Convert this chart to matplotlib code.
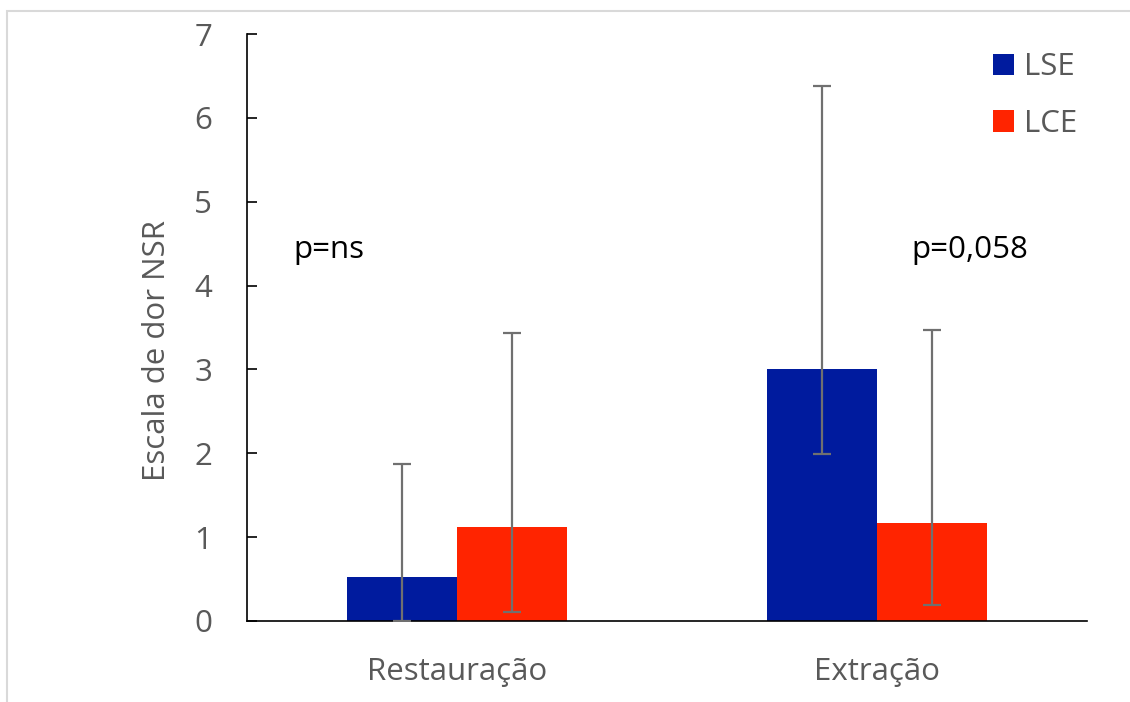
import matplotlib.pyplot as plt
import numpy as np
from matplotlib.patches import Rectangle

# dados
categorias = ['Restauração', 'Extração']
lse = [0.52, 3.0]
lce = [1.12, 1.17]
lse_min = [0.0, 1.99]
lse_max = [1.87, 6.38]
lce_min = [0.11, 0.19]
lce_max = [3.44, 3.47]
series = ['LSE', 'LCE']
cores = ['#001b9e', '#ff2400']
textos_p = ['p=ns', 'p=0,058']

plt.rcParams['font.family'] = ['Open Sans', 'DejaVu Sans']
cinza = '#595959'
fs = 22.5

fig = plt.figure(figsize=(11.3, 7.02), dpi=100)
ax = fig.add_axes([247 / 1130, 1 - 621 / 702, 840 / 1130, 587 / 702])

x = np.arange(len(categorias))
w = 0.263

erro_lse = [np.array(lse) - np.array(lse_min), np.array(lse_max) - np.array(lse)]
erro_lce = [np.array(lce) - np.array(lce_min), np.array(lce_max) - np.array(lce)]

ax.bar(x - w / 2, lse, w, color=cores[0], label=series[0], zorder=2)
ax.bar(x + w / 2, lce, w, color=cores[1], label=series[1], zorder=2)
ax.errorbar(x - w / 2, lse, yerr=erro_lse, fmt='none', ecolor='#707070',
            elinewidth=1.6, capsize=6.5, capthick=1.6, zorder=3)
ax.errorbar(x + w / 2, lce, yerr=erro_lce, fmt='none', ecolor='#707070',
            elinewidth=1.6, capsize=6.5, capthick=1.6, zorder=3)

ax.set_xlim(-0.5, 1.5)
ax.set_ylim(0, 7)
ax.set_xticks(x)
ax.set_xticklabels(categorias)
ax.set_yticks(range(8))
ax.tick_params(axis='x', length=0, labelsize=fs, colors=cinza, pad=26)
ax.tick_params(axis='y', direction='in', length=7, width=1.2, labelsize=fs,
               labelcolor=cinza, pad=25)
ax.spines['top'].set_visible(False)
ax.spines['right'].set_visible(False)
ax.spines['left'].set_linewidth(1.2)
ax.spines['bottom'].set_linewidth(1.2)
ax.set_ylabel('Escala de dor NSR', fontsize=fs, color=cinza, labelpad=16, y=0.46)

ax.text(-0.305, 4.42, textos_p[0], fontsize=fs, color='black', ha='center', va='center')
ax.text(1.22, 4.42, textos_p[1], fontsize=fs, color='black', ha='center', va='center')

ax.legend(loc='upper right', bbox_to_anchor=(1.014, 1.006), frameon=False, fontsize=fs,
          handlelength=0.68, handleheight=0.68, labelspacing=0.85, handletextpad=0.3,
          labelcolor=cinza, borderaxespad=0.3)

# moldura cinza clara
fig.patches.append(Rectangle((7 / 1130, -0.1), 1.2, 1 - 11 / 702 + 0.1,
                             transform=fig.transFigure, fill=False,
                             edgecolor='#d9d9d9', linewidth=1.5))

plt.savefig('out.png', dpi=100)
